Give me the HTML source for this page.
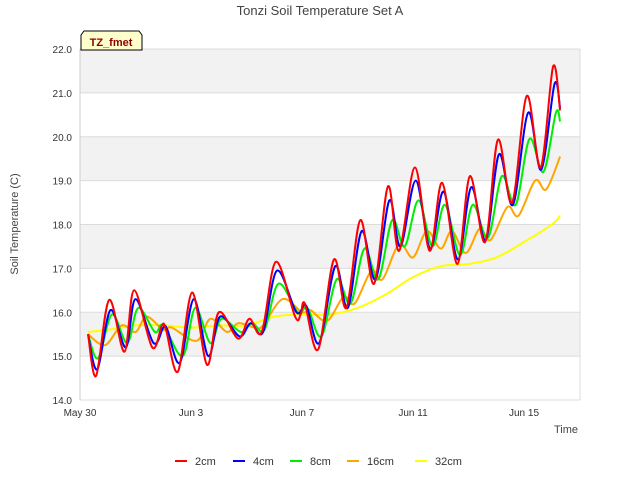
<!DOCTYPE html>
<html><head><meta charset="utf-8"><style>
body{margin:0;background:#fff;font-family:"Liberation Sans",sans-serif}
svg text{font-family:"Liberation Sans",sans-serif}
</style></head><body>
<svg width="640" height="480" xmlns="http://www.w3.org/2000/svg">
<g id="bands"></g>
<g id="grid"></g>
<g id="axes"></g>
<g id="series"></g>
<text x="320" y="15" text-anchor="middle" font-size="13" fill="#444">Tonzi Soil Temperature Set A</text>
<text transform="translate(18,224) rotate(-90)" text-anchor="middle" font-size="11" fill="#444">Soil Temperature (C)</text>
<text x="578" y="433" text-anchor="end" font-size="11" fill="#444">Time</text>
<g>
<path d="M81,50 L81,35 L84,31 L139,31 L142,35 L142,50 Z" fill="#ffffcc" stroke="#000" stroke-width="1"/>
<text x="111" y="46" text-anchor="middle" font-size="11" font-weight="bold" fill="#8b0000">TZ_fmet</text>
</g>
<g id="legend"></g>
</svg>
<script>
const yTicks=[14,15,16,17,18,19,20,21,22];
const xTickLabels=["May 30","Jun 3","Jun 7","Jun 11","Jun 15"];
const xTickDays=[0,4,8,12,16];
const seriesNames=["2cm","4cm","8cm","16cm","32cm"];
const seriesColors=["#ff0000","#0000ff","#00ee00","#ffa500","#ffff00"];
const t2=[0.29,0.58,1.05,1.6,1.95,2.6,2.95,3.1,3.53,4.04,4.58,5.0,5.7,6.1,6.55,7.06,7.75,7.95,8.1,8.58,9.15,9.6,10.1,10.6,11.1,11.5,12.07,12.6,13.05,13.6,14.05,14.6,15.06,15.57,16.1,16.6,17.05,17.3];
const v2=[15.5,14.55,16.28,15.1,16.5,15.2,15.7,15.6,14.65,16.45,14.8,16.0,15.4,15.85,15.55,17.15,15.9,15.95,16.2,15.15,17.2,16.1,18.1,16.65,18.87,17.4,19.3,17.4,18.95,17.1,19.1,17.6,19.93,18.5,20.93,19.3,21.6,20.6];
const t4=[0.29,0.62,1.1,1.65,2.0,2.65,3.0,3.15,3.6,4.1,4.62,5.05,5.75,6.15,6.6,7.1,7.8,8.15,8.62,9.2,9.65,10.15,10.65,11.15,11.55,12.1,12.62,13.1,13.62,14.1,14.62,15.1,15.6,16.15,16.62,17.1,17.3];
const v4=[15.5,14.7,16.05,15.2,16.3,15.3,15.65,15.6,14.85,16.3,15.0,15.9,15.45,15.75,15.55,16.95,16.0,16.15,15.3,17.05,16.1,17.85,16.75,18.55,17.5,19.0,17.45,18.75,17.2,18.85,17.65,19.6,18.45,20.55,19.25,21.2,20.65];
const t8=[0.29,0.65,1.15,1.7,2.1,2.7,3.0,3.7,4.15,4.7,5.1,5.8,6.2,6.65,7.15,7.85,8.2,8.7,9.25,9.75,10.25,10.75,11.25,11.7,12.2,12.7,13.15,13.7,14.15,14.7,15.2,15.7,16.2,16.7,17.15,17.3];
const v8=[15.5,14.95,15.95,15.3,16.1,15.55,15.7,15.0,16.1,15.3,15.85,15.55,15.75,15.6,16.65,16.0,16.1,15.45,16.75,16.2,17.45,16.75,18.1,17.5,18.55,17.5,18.45,17.3,18.45,17.7,19.1,18.45,19.95,19.2,20.55,20.35];
const t16=[0.29,0.9,1.5,2.0,2.4,3.0,3.3,4.2,4.7,5.3,5.7,6.3,6.6,7.3,8.0,8.3,8.9,9.5,9.9,10.5,10.9,11.5,12.0,12.5,13.0,13.4,13.9,14.4,14.8,15.4,15.8,16.4,16.8,17.3];
const v16=[15.5,15.25,15.7,15.55,15.9,15.6,15.65,15.35,15.85,15.55,15.75,15.65,15.7,16.3,16.0,16.05,15.8,16.35,16.2,16.95,16.75,17.55,17.25,17.85,17.45,17.85,17.35,17.9,17.65,18.4,18.2,19.0,18.8,19.55];
const t32=[0.29,1,2,3,4,5,6,7,8,9,10,11,12,13,14,15,16,17,17.3];
const v32=[15.55,15.6,15.7,15.7,15.65,15.7,15.7,15.9,15.95,15.95,16.1,16.4,16.8,17.05,17.1,17.25,17.6,18.0,18.2];
const seriesT=[t2,t4,t8,t16,t32];
const seriesV=[v2,v4,v8,v16,v32];

const NS="http://www.w3.org/2000/svg";
const X0=80,X1=580,Y0=400,Y1=49;
const xs=d=>X0+d*27.75;
const ys=v=>Y0-(v-14)*(Y0-Y1)/8;
function mk(tag,attrs,parent){const e=document.createElementNS(NS,tag);for(const k in attrs)e.setAttribute(k,attrs[k]);parent.appendChild(e);return e;}
const bands=document.getElementById('bands'),grid=document.getElementById('grid'),axes=document.getElementById('axes'),ser=document.getElementById('series'),leg=document.getElementById('legend');
mk('rect',{x:X0,y:Y1,width:X1-X0,height:Y0-Y1,fill:'#fff'},bands);
for(let i=0;i<yTicks.length-1;i++){
  if(i%2===1){const r=mk('rect',{x:X0,y:ys(yTicks[i+1]),width:X1-X0,height:ys(yTicks[i])-ys(yTicks[i+1]),fill:'#f2f2f2'},bands);
  
  }
}
yTicks.forEach(v=>{
  const l=mk('line',{x1:X0,x2:X1,y1:ys(v),y2:ys(v),stroke:'#dcdcdc','stroke-width':1},grid);
  
  
  const t=mk('text',{x:X0-8,y:ys(v)+4,'text-anchor':'end','font-size':10,fill:'#333'},axes);
  t.textContent=v.toFixed(1);
  
  
});
mk('line',{x1:X0,x2:X0,y1:Y1,y2:Y0,stroke:'#ccc'},axes);
mk('line',{x1:X1,x2:X1,y1:Y1,y2:Y0,stroke:'#ddd'},axes);
xTickLabels.forEach((s,i)=>{
  const t=mk('text',{x:xs(xTickDays[i]),y:Y0+16,'text-anchor':'middle','font-size':10,fill:'#333'},axes);
  t.textContent=s;
  
  
});
function smooth(pts){
  let d='M'+pts[0][0].toFixed(1)+','+pts[0][1].toFixed(1);
  for(let i=0;i<pts.length-1;i++){
    const p0=pts[Math.max(0,i-1)],p1=pts[i],p2=pts[i+1],p3=pts[Math.min(pts.length-1,i+2)];
    const c1=[p1[0]+(p2[0]-p0[0])/6,p1[1]+(p2[1]-p0[1])/6];
    const c2=[p2[0]-(p3[0]-p1[0])/6,p2[1]-(p3[1]-p1[1])/6];
    d+=' C'+c1.map(n=>n.toFixed(1))+' '+c2.map(n=>n.toFixed(1))+' '+p2[0].toFixed(1)+','+p2[1].toFixed(1);
  }
  return d;
}
[4,3,2,1,0].forEach(k=>{
  const pts=seriesT[k].map((t,i)=>[xs(t),ys(seriesV[k][i])]);
  const p=mk('path',{d:smooth(pts),fill:'none',stroke:seriesColors[k],'stroke-width':2},ser);
  
  
});
const lx=[175,233,290,347,415];
seriesNames.forEach((n,i)=>{
  const g=mk('g',{},leg);
  
  
  mk('line',{x1:lx[i],x2:lx[i]+12,y1:461,y2:461,stroke:seriesColors[i],'stroke-width':2},g);
  const t=mk('text',{x:lx[i]+20,y:465,'font-size':11,fill:'#333'},g);
  t.textContent=n;
});
</script>
</body></html>
